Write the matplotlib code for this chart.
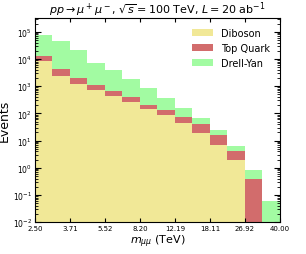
import matplotlib
matplotlib.use("Agg")
import matplotlib.pyplot as plt
import numpy as np
from matplotlib.ticker import NullLocator

# bin edges in TeV (14 log-spaced bins)
edges = np.geomspace(2.5, 40.0, 15)
tick_edges = edges[::2]
tick_labels = [f"{v:.2f}" for v in tick_edges]

# events per bin, stacked bottom to top
diboson = [8500, 2400, 1250, 740, 430, 260, 150, 85, 46, 19.5, 7.1, 1.9, 0, 0]
top_quark = [4500, 1800, 750, 410, 230, 140, 60, 45, 26, 22.5, 8.4, 2.2, 0.39, 0]
drell_yan = [63000, 40800, 19000, 5850, 3340, 1500, 620, 250, 88, 26, 9.5, 2.1, 0.44, 0.062]

labels = ["Diboson", "Top Quark", "Drell-Yan"]
colors = ["#f0e68c", "#cd5c5c", "#98fb98"]

fig = plt.figure(figsize=(3.06, 2.55), dpi=100)
ax = fig.add_axes([0.114, 0.125, 0.801, 0.80])

centers = 0.5 * (edges[:-1] + edges[1:])
ax.hist([centers] * 3, bins=edges, weights=[diboson, top_quark, drell_yan],
        stacked=True, histtype="stepfilled", color=colors, label=labels, alpha=0.9)

ax.set_xscale("log")
ax.set_yscale("log")
ax.set_xlim(2.5, 40.0)
ax.set_ylim(1e-2, 3.2e5)
ax.set_xticks(tick_edges)
ax.set_xticklabels(tick_labels)
ax.xaxis.set_minor_locator(NullLocator())
ax.tick_params(which="both", direction="in", top=True, right=True)
ax.tick_params(axis="x", labelsize=5, length=3, pad=2)
ax.tick_params(axis="y", which="major", labelsize=5.5, length=4, pad=2)
ax.tick_params(axis="y", which="minor", length=2)

ax.set_xlabel(r"$m_{\mu\mu}$ (TeV)", fontsize=8, labelpad=1)
ax.set_ylabel("Events", fontsize=9)
ax.yaxis.set_label_coords(-0.097, 0.5)
ax.set_title(r"$pp \to \mu^+\mu^-$, $\sqrt{s} = 100$ TeV, $L = 20$ ab$^{-1}$", fontsize=8, pad=3)

handles, hlabels = ax.get_legend_handles_labels()
order = [hlabels.index(name) for name in labels]
ax.legend([handles[i] for i in order], labels, loc="upper right", frameon=False,
          fontsize=7, handlelength=2.2, borderaxespad=0.6)

fig.savefig("out.png", dpi=100)
